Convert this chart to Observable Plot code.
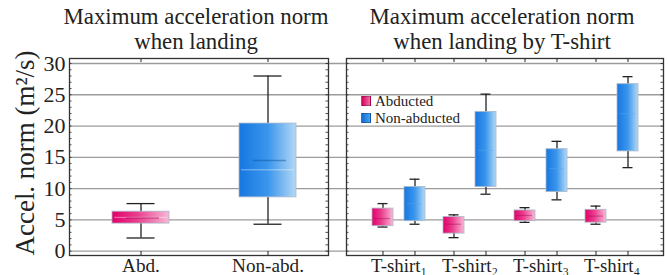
<!DOCTYPE html>
<html>
<head>
<meta charset="utf-8">
<script src="https://cdn.jsdelivr.net/npm/d3@7"></script>
<script src="https://cdn.jsdelivr.net/npm/@observablehq/plot@0.6"></script>
<style>
  html, body { margin: 0; padding: 0; background: #fff; }
  #wrap { position: relative; width: 668px; height: 275px; overflow: hidden; color: #222; }
  #wrap svg { position: absolute; left: 0; top: 0; }
  .title { position: absolute; width: 320px; text-align: center; white-space: nowrap; }
  .ylab { position: absolute; left: 25px; top: 153px; transform: translate(-50%, -50%) rotate(-90deg); white-space: nowrap; }
  .legend { position: absolute; left: 361px; }
  .legend .sw { display: inline-block; width: 8px; height: 8px; margin-right: 4px; border: 0.5px solid rgba(0,0,0,0.25); vertical-align: baseline; }
</style>
</head>
<body>
<div id="wrap">
  <div class="title" id="t1" style="left:36px">Maximum acceleration norm<br>when landing</div>
  <div class="title" id="t2" style="left:342px">Maximum acceleration norm<br>when landing by T-shirt</div>
  <div class="ylab" id="ylab">Accel. norm (m²/s)</div>
  <div class="legend" id="legend">
    <div><span class="sw" style="background:linear-gradient(90deg,#d8005f,#f070a8)"></span>Abducted</div>
    <div><span class="sw" style="background:linear-gradient(90deg,#0f6fd6,#4aa0ee)"></span>Non-abducted</div>
  </div>
</div>
<script>
// ---------- data ----------
const yTicks = [0, 5, 10, 15, 20, 25, 30];
const minorTicks = d3.range(0, 31, 1);

const overallGroups = ["Abd.", "Non-abd."];
const overallMin  = [2.1, 4.3];
const overallQ1   = [4.4, 8.6];
const overallMed  = [5.3, 14.5];
const overallMean = [5.4, 13.0];
const overallQ3   = [6.3, 20.4];
const overallMax  = [7.6, 28.0];

const tshirts = ["T-shirt₁", "T-shirt₂", "T-shirt₃", "T-shirt₄"];
const tshirtGroups = ["Abducted", "Non-abducted"];
const abdMin = [3.85, 2.15, 4.6, 4.3];
const abdQ1  = [4.0, 2.8, 4.8, 4.55];
const abdMed = [5.2, 4.3, 5.7, 5.6];
const abdQ3  = [6.8, 5.45, 6.5, 6.6];
const abdMax = [7.6, 5.8, 6.95, 7.2];
const nonMin = [4.3, 9.1, 8.2, 13.35];
const nonQ1  = [4.8, 10.25, 9.45, 15.95];
const nonMed = [7.6, 16.1, 13.2, 22.0];
const nonQ3  = [10.25, 22.25, 16.3, 26.7];
const nonMax = [11.5, 25.1, 17.55, 27.9];

// ---------- font selection (serif if present, sized to the reference text widths) ----------
const ctx = document.createElement("canvas").getContext("2d");
function w(text, fam, size) { ctx.font = `${size}px ${fam}`; return ctx.measureText(text).width; }
function available(name) {
  const probe = "Maximum acceleration mmmWWiil 0123";
  const a = w(probe, "monospace", 40), b = w(probe, "sans-serif", 40);
  return w(probe, `'${name}', monospace`, 40) !== a && w(probe, `'${name}', sans-serif`, 40) !== b;
}
const candidates = ["Liberation Serif", "Tinos", "Times New Roman", "Nimbus Roman", "DejaVu Serif", "Noto Serif"];
const fam = candidates.find(available) || "DejaVu Serif";
const font = `'${fam}', serif`;
function sizeFor(text, target, maxSize) {
  const s = 100 * target / w(text, font, 100);
  return Math.min(s, maxSize || 99);
}
const titleSize = sizeFor("Maximum acceleration norm", 265);
const ylabSize = sizeFor("Accel. norm (m²/s)", 205);
const yTickSize = sizeFor("30", 22, 22);
const xTickSize = sizeFor("Non-abd.", 72);
const shirtSize = sizeFor("T-shirt₁", 56);
const legendSize = sizeFor("Non-abducted", 85);

// HTML texts
for (const id of ["t1", "t2"]) {
  const el = document.getElementById(id);
  el.style.fontFamily = font;
  el.style.fontSize = titleSize + "px";
  el.style.lineHeight = "24.5px";
  el.style.top = (25 - 12.25 - 0.35 * titleSize + 0.5) + "px";
}
const yl = document.getElementById("ylab");
yl.style.fontFamily = font; yl.style.fontSize = ylabSize + "px";
const lg = document.getElementById("legend");
lg.style.fontFamily = font; lg.style.fontSize = legendSize + "px"; lg.style.lineHeight = "17px";
lg.style.top = (107 - 8.5 - 0.35 * legendSize) + "px";

// ---------- tables ----------
const overall = overallGroups.map((g, i) => ({
  group: g, min: overallMin[i], q1: overallQ1[i], med: overallMed[i], mean: overallMean[i],
  q3: overallQ3[i], max: overallMax[i], fill: i === 0 ? "url(#gPink)" : "url(#gBlue)",
  medStroke: i === 0 ? "#a0004f" : "#0c4f9a"
}));
const byShirt = [];
tshirts.forEach((t, i) => {
  byShirt.push({tshirt: t, group: tshirtGroups[0], min: abdMin[i], q1: abdQ1[i], med: abdMed[i], q3: abdQ3[i], max: abdMax[i], fill: "url(#gPink)", medStroke: "#a0004f"});
  byShirt.push({tshirt: t, group: tshirtGroups[1], min: nonMin[i], q1: nonQ1[i], med: nonMed[i], q3: nonQ3[i], max: nonMax[i], fill: "url(#gBlue)", medStroke: "#5aa5ea"});
});

const W = 668, H = 275, MT = 58, MB = 20;
const yDomain = [-0.7, 30.8];
const ink = "#222";
const gridColor = "#9c9c9c";

function addGradients(svg) {
  const defs = d3.select(svg).insert("defs", ":first-child");
  const mk = (id, stops) => {
    const g = defs.append("linearGradient").attr("id", id).attr("x1", 0).attr("x2", 1).attr("y1", 0).attr("y2", 0);
    stops.forEach(([o, c]) => g.append("stop").attr("offset", o).attr("stop-color", c));
  };
  mk("gPink", [[0, "#e2006a"], [0.45, "#ea3f8e"], [1, "#f8b8d6"]]);
  mk("gBlue", [[0, "#1677e0"], [0.5, "#3a95ec"], [1, "#b3d9f5"]]);
}

// ---------- left panel (also draws the shared gridlines) ----------
const leftML = 69, leftMR = W - 328;
const leftFrameW = W - leftML - leftMR;
const left = Plot.plot({
  width: W, height: H,
  marginLeft: leftML, marginRight: leftMR, marginTop: MT, marginBottom: MB,
  style: {fontFamily: font, fontSize: "20px", color: ink, background: "transparent", overflow: "visible"},
  x: {domain: overallGroups, paddingInner: 0.554, paddingOuter: 0.291, align: 0.572},
  y: {domain: yDomain},
  color: {type: "identity"},
  marks: [
    Plot.ruleY(yTicks, {stroke: gridColor, strokeWidth: 1.3, insetRight: -(663 - 328)}),
    Plot.ruleY(minorTicks, {stroke: ink, strokeWidth: 0.8, insetRight: leftFrameW - 2.5}),
    Plot.ruleY(minorTicks, {stroke: ink, strokeWidth: 0.8, insetLeft: leftFrameW - 2.5}),
    Plot.ruleX(overallGroups, {stroke: ink, strokeWidth: 1, insetBottom: 197 - 4}),
    Plot.ruleX(overallGroups, {stroke: ink, strokeWidth: 1, insetTop: 197 - 4}),
    Plot.ruleX(overall, {x: "group", y1: "min", y2: "q1", stroke: ink, strokeWidth: 1.3}),
    Plot.ruleX(overall, {x: "group", y1: "q3", y2: "max", stroke: ink, strokeWidth: 1.3}),
    Plot.tickY(overall, {x: "group", y: "min", stroke: ink, strokeWidth: 1.3, insetLeft: 14.5, insetRight: 14.5}),
    Plot.tickY(overall, {x: "group", y: "max", stroke: ink, strokeWidth: 1.3, insetLeft: 14.5, insetRight: 14.5}),
    Plot.barY(overall, {x: "group", y1: "q1", y2: "q3", fill: "fill", stroke: "#a9b8c8", strokeWidth: 1, strokeOpacity: 0.8}),
    Plot.tickY(overall, {x: "group", y: "mean", stroke: "#ffffff", strokeOpacity: 0.45, strokeWidth: 1, insetLeft: 2, insetRight: 2}),
    Plot.tickY(overall, {x: "group", y: "med", stroke: "medStroke", strokeOpacity: 0.45, strokeWidth: 1.5, insetLeft: 14, insetRight: 10}),
    Plot.frame({stroke: "#333", strokeWidth: 1.3}),
    Plot.axisY(yTicks, {tickSize: 0, tickPadding: 4, fontSize: yTickSize, label: null}),
    Plot.axisX({tickSize: 0, tickPadding: 3, fontSize: xTickSize, label: null})
  ]
});
addGradients(left);

// ---------- right panel frame ----------
const rightML = 346, rightMR = W - 663;
const rightFrameW = W - rightML - rightMR;
const rightFrame = Plot.plot({
  width: W, height: H,
  marginLeft: rightML, marginRight: rightMR, marginTop: MT, marginBottom: MB,
  style: {background: "transparent", overflow: "visible"},
  y: {domain: yDomain, axis: null},
  marks: [
    Plot.ruleY(minorTicks, {stroke: ink, strokeWidth: 0.8, insetRight: rightFrameW - 2.5}),
    Plot.ruleY(minorTicks, {stroke: ink, strokeWidth: 0.8, insetLeft: rightFrameW - 2.5}),
    Plot.frame({stroke: "#333", strokeWidth: 1.3})
  ]
});

// ---------- right panel boxes ----------
const right = Plot.plot({
  width: W, height: H,
  marginLeft: rightML, marginRight: rightMR, marginTop: MT, marginBottom: MB,
  style: {fontFamily: font, fontSize: shirtSize + "px", color: ink, background: "transparent", overflow: "visible"},
  fx: {domain: tshirts, paddingInner: 0, paddingOuter: 0.22, axis: "bottom", label: null, tickSize: 0, tickPadding: 3},
  x: {domain: tshirtGroups, paddingInner: 0.35, paddingOuter: 0.28, axis: null},
  y: {domain: yDomain, axis: null},
  color: {type: "identity"},
  marks: [
    Plot.ruleX(byShirt, {fx: "tshirt", x: "group", stroke: ink, strokeWidth: 1, insetBottom: 197 - 4}),
    Plot.ruleX(byShirt, {fx: "tshirt", x: "group", stroke: ink, strokeWidth: 1, insetTop: 197 - 4}),
    Plot.ruleX(byShirt, {fx: "tshirt", x: "group", y1: "min", y2: "q1", stroke: ink, strokeWidth: 1.3}),
    Plot.ruleX(byShirt, {fx: "tshirt", x: "group", y1: "q3", y2: "max", stroke: ink, strokeWidth: 1.3}),
    Plot.tickY(byShirt, {fx: "tshirt", x: "group", y: "min", stroke: ink, strokeWidth: 1.3, insetLeft: 5.5, insetRight: 5.5}),
    Plot.tickY(byShirt, {fx: "tshirt", x: "group", y: "max", stroke: ink, strokeWidth: 1.3, insetLeft: 5.5, insetRight: 5.5}),
    Plot.barY(byShirt, {fx: "tshirt", x: "group", y1: "q1", y2: "q3", fill: "fill", stroke: "#a9b8c8", strokeWidth: 1, strokeOpacity: 0.8}),
    Plot.tickY(byShirt, {fx: "tshirt", x: "group", y: "med", stroke: "medStroke", strokeOpacity: 0.4, strokeWidth: 1.2, insetLeft: 3, insetRight: 3})
  ]
});
addGradients(right);

const wrap = document.getElementById("wrap");
const firstChild = wrap.firstChild;
wrap.insertBefore(left, firstChild);
wrap.insertBefore(rightFrame, firstChild);
wrap.insertBefore(right, firstChild);
</script>
</body>
</html>
